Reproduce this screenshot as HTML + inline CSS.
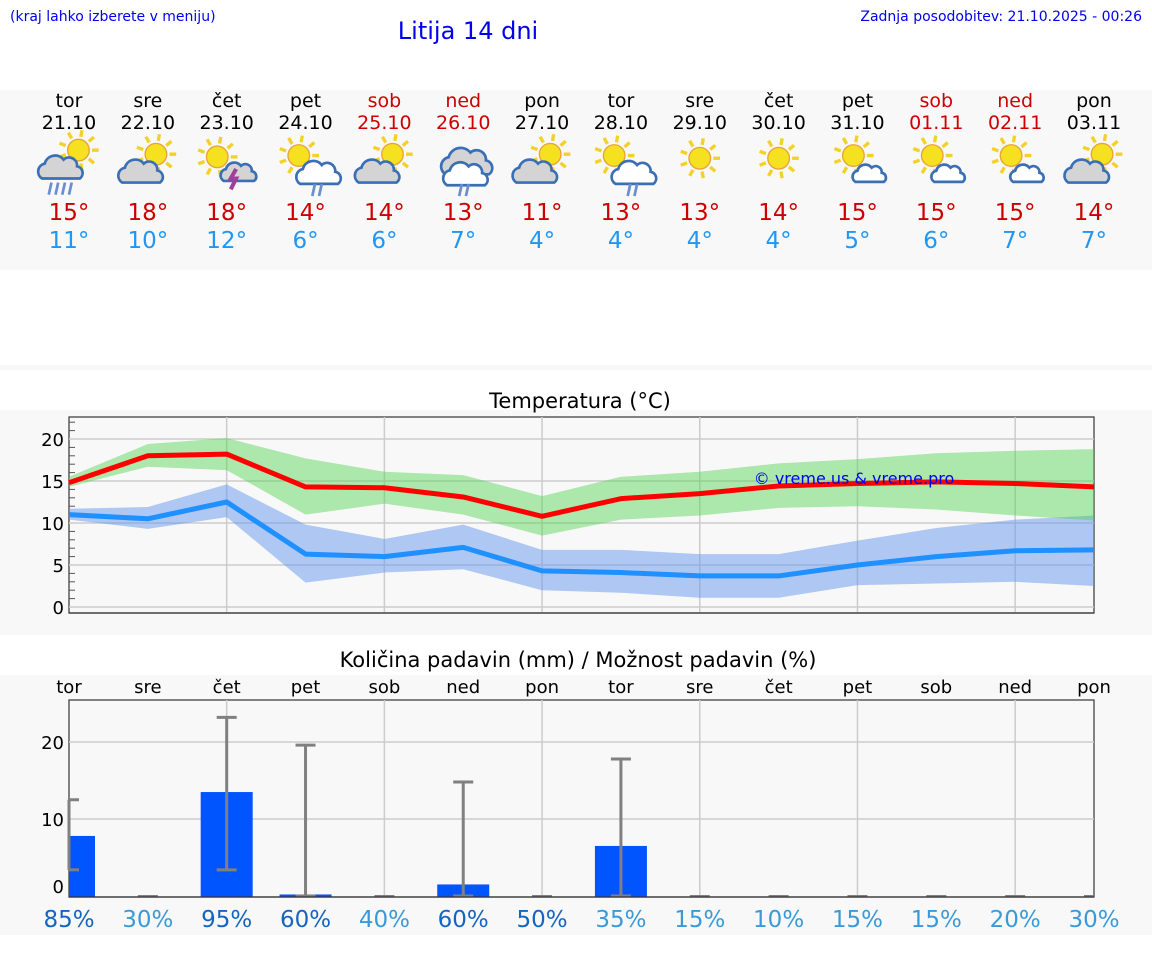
<!DOCTYPE html>
<html><head><meta charset="utf-8"><style>
html,body{margin:0;padding:0;background:#fff;width:1152px;height:975px;overflow:hidden}
svg{display:block;font-family:"DejaVu Sans","Liberation Sans",sans-serif}
</style></head><body>
<svg id="s" width="1152" height="975" xmlns="http://www.w3.org/2000/svg">
<rect x="0" y="90" width="1152" height="180" fill="#f8f8f8"/>
<rect x="0" y="365" width="1152" height="5" fill="#f8f8f8"/>
<rect x="0" y="410" width="1152" height="225" fill="#f8f8f8"/>
<rect x="0" y="675" width="1152" height="260" fill="#f8f8f8"/>
<text x="10" y="21" font-size="14" fill="#0000ee">(kraj lahko izberete v meniju)</text>
<text x="468" y="39" font-size="24" fill="#0000ee" text-anchor="middle">Litija 14 dni</text>
<text x="1142" y="21" font-size="14" fill="#0000ee" text-anchor="end">Zadnja posodobitev: 21.10.2025 - 00:26</text>
<text x="580" y="408" font-size="21" text-anchor="middle">Temperatura (°C)</text>
<text x="578" y="667" font-size="21" text-anchor="middle">Količina padavin (mm) / Možnost padavin (%)</text>
<g id="hdr"></g><g id="tc"></g><g id="pc"></g>
</svg>
<script>
const days=["tor","sre","čet","pet","sob","ned","pon","tor","sre","čet","pet","sob","ned","pon"];
const dates=["21.10","22.10","23.10","24.10","25.10","26.10","27.10","28.10","29.10","30.10","31.10","01.11","02.11","03.11"];
const weekend=[0,0,0,0,1,1,0,0,0,0,0,1,1,0];
const icons=["scr","sc","st","scr2","sc","cr","sc","scr2","s","s","ssc","ssc","ssc","sc"];
const maxT=[15,18,18,14,14,13,11,13,13,14,15,15,15,14];
const minT=[11,10,12,6,6,7,4,4,4,4,5,6,7,7];
const maxLine=[14.8,18,18.2,14.3,14.2,13.1,10.8,12.9,13.5,14.4,14.7,14.9,14.7,14.3];
const maxHi=[15.5,19.4,20.1,17.7,16.1,15.7,13.2,15.5,16.1,17.1,17.6,18.3,18.6,18.8];
const maxLo=[14.3,16.7,16.3,11,12.3,11,8.5,10.4,10.9,11.8,12,11.6,10.9,10.3];
const minLine=[11,10.5,12.5,6.3,6,7.1,4.3,4.1,3.7,3.7,5,6,6.7,6.8];
const minHi=[11.7,11.9,14.6,9.8,8.1,9.8,6.8,6.8,6.3,6.3,7.9,9.4,10.4,10.9];
const minLo=[10.4,9.3,10.7,2.9,4.1,4.5,2,1.7,1.1,1.1,2.6,2.8,3,2.5];
const tTicks=[0,5,10,15,20];
const precip=[7.8,0,13.5,0.2,0,1.5,0,6.5,0,0,0,0,0,0];
const pLo=[3.4,0,3.4,0,0,0,0,0,0,0,0,0,0,0];
const pHi=[12.5,0,23.2,19.6,0,14.8,0,17.8,0,0,0,0,0,0];
const prob=[85,30,95,60,40,60,50,35,15,10,15,15,20,30];
const pTicks=[0,10,20];

const NS="http://www.w3.org/2000/svg";
function mk(p,tag,a,txt){const e=document.createElementNS(NS,tag);for(const k in a)e.setAttribute(k,a[k]);if(txt!=null)e.textContent=txt;p.appendChild(e);return e;}
const X0=69,X1=1094,dx=(X1-X0)/13;
const xd=i=>X0+i*dx;
const tY=v=>607-v*8.4;
const pY=v=>896-v*7.7;

const hdr=document.getElementById('hdr');
function sun(g,cx,cy,r){for(let a=0;a<360;a+=40){const rad=a*Math.PI/180;mk(g,'line',{x1:cx+Math.cos(rad)*(r+2),y1:cy+Math.sin(rad)*(r+2),x2:cx+Math.cos(rad)*(r+7),y2:cy+Math.sin(rad)*(r+7),stroke:'#f2d22a','stroke-width':2.5});}
 mk(g,'circle',{cx,cy,r,fill:'#f5e11f',stroke:'#e8a33a','stroke-width':1});}
function cloud(g,cx,cy,s,fill){const st={fill:fill,stroke:'#3b6fb5','stroke-width':2};
 mk(g,'path',Object.assign({d:`M${cx-14*s},${cy+6*s} a${6*s},${6*s} 0 0 1 ${2*s},${-11*s} a${8*s},${8*s} 0 0 1 ${14*s},${-3*s} a${6*s},${6*s} 0 0 1 ${10*s},${5*s} a${5*s},${5*s} 0 0 1 ${2*s},${9*s} z`},st));}
function rain(g,cx,cy,n,col){for(let k=0;k<n;k++)mk(g,'line',{x1:cx+k*5+2,y1:cy,x2:cx+k*5,y2:cy+9,stroke:col||'#6a8ed0','stroke-width':2});}
for(let i=0;i<14;i++){
 const x=xd(i),c=weekend[i]?'#cc0000':'#000';
 const g=mk(hdr,'g',{});
 
 
 mk(g,'text',{x,y:107,'font-size':19,'text-anchor':'middle',fill:c},days[i]);
 mk(g,'text',{x,y:129,'font-size':19,'text-anchor':'middle',fill:c},dates[i]);
 const ic=mk(g,'g',{transform:`translate(${x},165) scale(1.35) translate(${-x},-163)`});
 
 
 const t=icons[i];
 if(t=='s'){sun(ic,x,158,8);}
 else if(t=='sc'){sun(ic,x+6,155,8);cloud(ic,x-5,170,1,'#d4d4d4');}
 else if(t=='scr'){sun(ic,x+7,152,8);cloud(ic,x-6,167,1,'#d4d4d4');rain(ic,x-15,176,4);}
 else if(t=='scr2'){sun(ic,x-5,156,8);cloud(ic,x+10,171,1,'#fff');rain(ic,x+5,177,2);}
 else if(t=='st'){sun(ic,x-7,157,8);cloud(ic,x+9,170,0.8,'#d4d4d4');mk(ic,'path',{d:`M${x+7},${166} l-4,7 h4 l-4,8`,stroke:'#a0409a','stroke-width':3,fill:'none'});}
 else if(t=='cr'){cloud(ic,x+3,163,1.15,'#d4d4d4');cloud(ic,x+2,172,1,'#fff');rain(ic,x-3,177,2);}
 else if(t=='ssc'){sun(ic,x-3,156,8);cloud(ic,x+9,171,0.75,'#fff');}
 const a=mk(g,'text',{x,y:220,'font-size':23,'text-anchor':'middle',fill:'#cc0000'},maxT[i]+'°');
 
 const b=mk(g,'text',{x,y:248,'font-size':23,'text-anchor':'middle',fill:'#2196f3'},minT[i]+'°');
 
}

const tc=document.getElementById('tc');
const tpa=mk(tc,'rect',{x:X0,y:417,width:X1-X0,height:196,fill:'#f8f8f8',stroke:'#333','stroke-width':1.2});

for(const v of tTicks){mk(tc,'line',{x1:X0,x2:X1,y1:tY(v),y2:tY(v),stroke:'#ccc','stroke-width':1.5});
 const l=mk(tc,'text',{x:64,y:tY(v)+7,'font-size':18,'text-anchor':'end'},v);
 }
for(let v=1;v<=22;v++){if(v%5)mk(tc,'line',{x1:X0,x2:X0+6,y1:tY(v),y2:tY(v),stroke:'#555','stroke-width':1});}
for(let i=2;i<14;i+=2)mk(tc,'line',{x1:xd(i),x2:xd(i),y1:417,y2:613,stroke:'#ccc','stroke-width':1.5});
function band(hi,lo,col,name){let d='M'+hi.map((v,i)=>xd(i)+','+tY(v)).join(' L')+' L'+lo.map((v,i)=>[i,v]).reverse().map(([i,v])=>xd(i)+','+tY(v)).join(' L')+'Z';
 const p=mk(tc,'path',{d,fill:col});}
function line(arr,col,name){const p=mk(tc,'polyline',{points:arr.map((v,i)=>xd(i)+','+tY(v)).join(' '),fill:'none',stroke:col,'stroke-width':5,'stroke-linejoin':'round'});
 }
band(minHi,minLo,'rgba(100,149,237,0.5)','min-temp-range');
band(maxHi,maxLo,'rgba(80,210,80,0.45)','max-temp-range');
line(minLine,'#1e90ff','min-temp-line');
line(maxLine,'#ff0000','max-temp-line');
mk(tc,'line',{x1:X0,x2:X1,y1:613,y2:613,stroke:'#333','stroke-width':1.2});
const wm=mk(tc,'text',{x:854,y:484,'font-size':16,'text-anchor':'middle',fill:'#0000ee'},'© vreme.us & vreme.pro');


const pc=document.getElementById('pc');
const ppa=mk(pc,'rect',{x:X0,y:700,width:X1-X0,height:197,fill:'#f8f8f8',stroke:'#333','stroke-width':1.2});

for(const v of pTicks){if(v>0)mk(pc,'line',{x1:X0,x2:X1,y1:pY(v),y2:pY(v),stroke:'#ccc','stroke-width':1.5});
 const l=mk(pc,'text',{x:64,y:pY(v)+(v?7:-3),'font-size':18,'text-anchor':'end'},v);
 }
for(let i=2;i<14;i+=2)mk(pc,'line',{x1:xd(i),x2:xd(i),y1:700,y2:897,stroke:'#ccc','stroke-width':1.5});
for(let i=0;i<14;i++){
 const x=xd(i);
 const dl=mk(pc,'text',{x,y:693,'font-size':18,'text-anchor':'middle'},days[i]);
 
 if(precip[i]>0){const bx=Math.max(X0,x-26),bw=Math.min(x+26,X1)-bx;
  const r=mk(pc,'rect',{x:bx,y:pY(precip[i]),width:bw,height:pY(0)-pY(precip[i])+1,fill:'#0055ff'});
  }
 const e=mk(pc,'g',{stroke:'#808080','stroke-width':3});
 
 const ex1=Math.max(X0,x-10),ex2=Math.min(X1,x+10);
 if(pHi[i]>0){mk(e,'line',{x1:x,x2:x,y1:pY(pHi[i]),y2:pY(pLo[i])});
  mk(e,'line',{x1:ex1,x2:ex2,y1:pY(pHi[i]),y2:pY(pHi[i])});
  mk(e,'line',{x1:ex1,x2:ex2,y1:pY(pLo[i]),y2:pY(pLo[i])});}
 else mk(e,'line',{x1:ex1,x2:ex2,y1:pY(0),y2:pY(0),'stroke-width':2});
 const pl=mk(pc,'text',{x,y:927,'font-size':23,'text-anchor':'middle',fill:prob[i]>=50?'#1565c0':'#3a9ad9'},prob[i]+'%');
 
}
mk(pc,'line',{x1:X0,x2:X1,y1:897,y2:897,stroke:'#333','stroke-width':1.2});
</script>
</body></html>
